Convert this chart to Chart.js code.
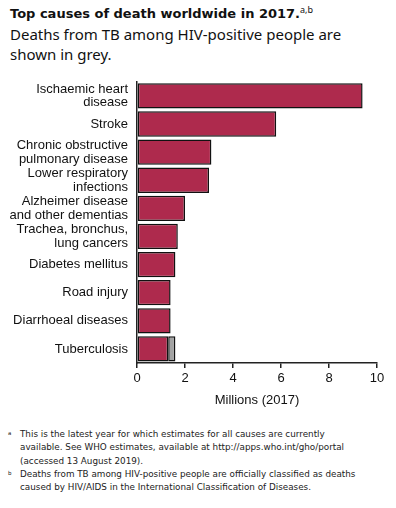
<!DOCTYPE html>
<html>
<head>
<meta charset="utf-8">
<script src="https://cdn.jsdelivr.net/npm/chart.js@4"></script>
<style>
  html, body { margin: 0; padding: 0; background: #fff; }
  body { width: 396px; height: 508px; position: relative; font-family: "Noto Sans", sans-serif; color: #111; }
  #head { position: absolute; left: 10px; top: 0px; width: 386px; }
  #head .t { font-family: "DejaVu Sans", sans-serif; font-weight: bold; font-size: 13px; line-height: 20px; }
  #head .t sup { font-family: "Noto Sans", sans-serif; font-weight: normal; font-size: 9px; }
  #head .s { font-size: 15px; line-height: 20px; }
  #wrap { position: absolute; left: 0; top: 66px; width: 396px; height: 342px; }
  #notes { position: absolute; left: 8px; top: 428px; width: 388px; font-family: "DejaVu Sans", sans-serif; font-size: 8.8px; line-height: 13.3px; color: #222; white-space: nowrap; }
  #notes div { padding-left: 12px; text-indent: -12px; }
  #notes span { display: inline-block; width: 12px; text-indent: 0; font-size: 5.5px; vertical-align: top; line-height: 10px; }
</style>
</head>
<body>
<div id="head">
  <div class="t">Top causes of death worldwide in 2017.<sup>a,b</sup></div>
  <div class="s">Deaths from TB among HIV-positive people are<br>shown in grey.</div>
</div>
<div id="wrap"><canvas id="chart"></canvas></div>
<div id="notes">
  <div><span>a</span>This is the latest year for which estimates for all causes are currently<br>available. See WHO estimates, available at http://apps.who.int/gho/portal<br>(accessed 13 August 2019).</div>
  <div><span>b</span>Deaths from TB among HIV-positive people are officially classified as deaths<br>caused by HIV/AIDS in the International Classification of Diseases.</div>
</div>
<script>
const causes = [
  ['Ischaemic heart', 'disease'],
  'Stroke',
  ['Chronic obstructive', 'pulmonary disease'],
  ['Lower respiratory', 'infections'],
  ['Alzheimer disease', 'and other dementias'],
  ['Trachea, bronchus,', 'lung cancers'],
  'Diabetes mellitus',
  'Road injury',
  'Diarrhoeal diseases',
  'Tuberculosis'
];
// millions of deaths, 2017
const mainDeaths = [9.4, 5.8, 3.1, 3.0, 2.0, 1.7, 1.6, 1.4, 1.4, 1.3];
const tbHivDeaths = [0, 0, 0, 0, 0, 0, 0, 0, 0, 0.3];
const xTicks = [0, 2, 4, 6, 8, 10];

new Chart(document.getElementById('chart').getContext('2d'), {
  type: 'bar',
  data: {
    labels: causes,
    datasets: [
      {
        label: 'Deaths',
        data: mainDeaths,
        backgroundColor: '#ae2a4d',
        borderColor: '#111',
        borderWidth: 1.5,
        borderSkipped: false
      },
      {
        label: 'TB deaths among HIV-positive people',
        data: tbHivDeaths,
        backgroundColor: '#a3a3a3',
        borderColor: '#111',
        borderWidth: 1.5,
        borderSkipped: false
      }
    ]
  },
  options: {
    indexAxis: 'y',
    responsive: true,
    maintainAspectRatio: false,
    animation: false,
    layout: { padding: { top: 10, right: 19, left: 0, bottom: 0 } },
    datasets: { bar: { barPercentage: 0.9, categoryPercentage: 1 } },
    plugins: { legend: { display: false }, tooltip: { enabled: false } },
    scales: {
      x: {
        stacked: true,
        min: 0,
        max: 10,
        afterBuildTicks: (s) => { s.ticks = xTicks.map(v => ({ value: v })); },
        grid: { drawOnChartArea: false, drawTicks: true, tickLength: 5, color: '#222', lineWidth: 1.5 },
        border: { display: true, color: '#222', width: 1.5 },
        ticks: { color: '#111', padding: 3, font: { family: 'Liberation Sans', size: 13 } },
        title: { display: true, text: 'Millions (2017)', color: '#111', padding: { top: 5, bottom: 0 }, font: { family: 'Liberation Sans', size: 13 } },
        afterFit: (s) => { s.height = 45; }
      },
      y: {
        stacked: true,
        grid: { display: false, drawTicks: false },
        border: { display: true, color: '#222', width: 1.5 },
        ticks: { autoSkip: false, color: '#111', padding: 9, font: { family: 'Liberation Sans', size: 13, lineHeight: 1.05 } },
        afterFit: (s) => { s.width = 137; }
      }
    }
  }
});
</script>
</body>
</html>
